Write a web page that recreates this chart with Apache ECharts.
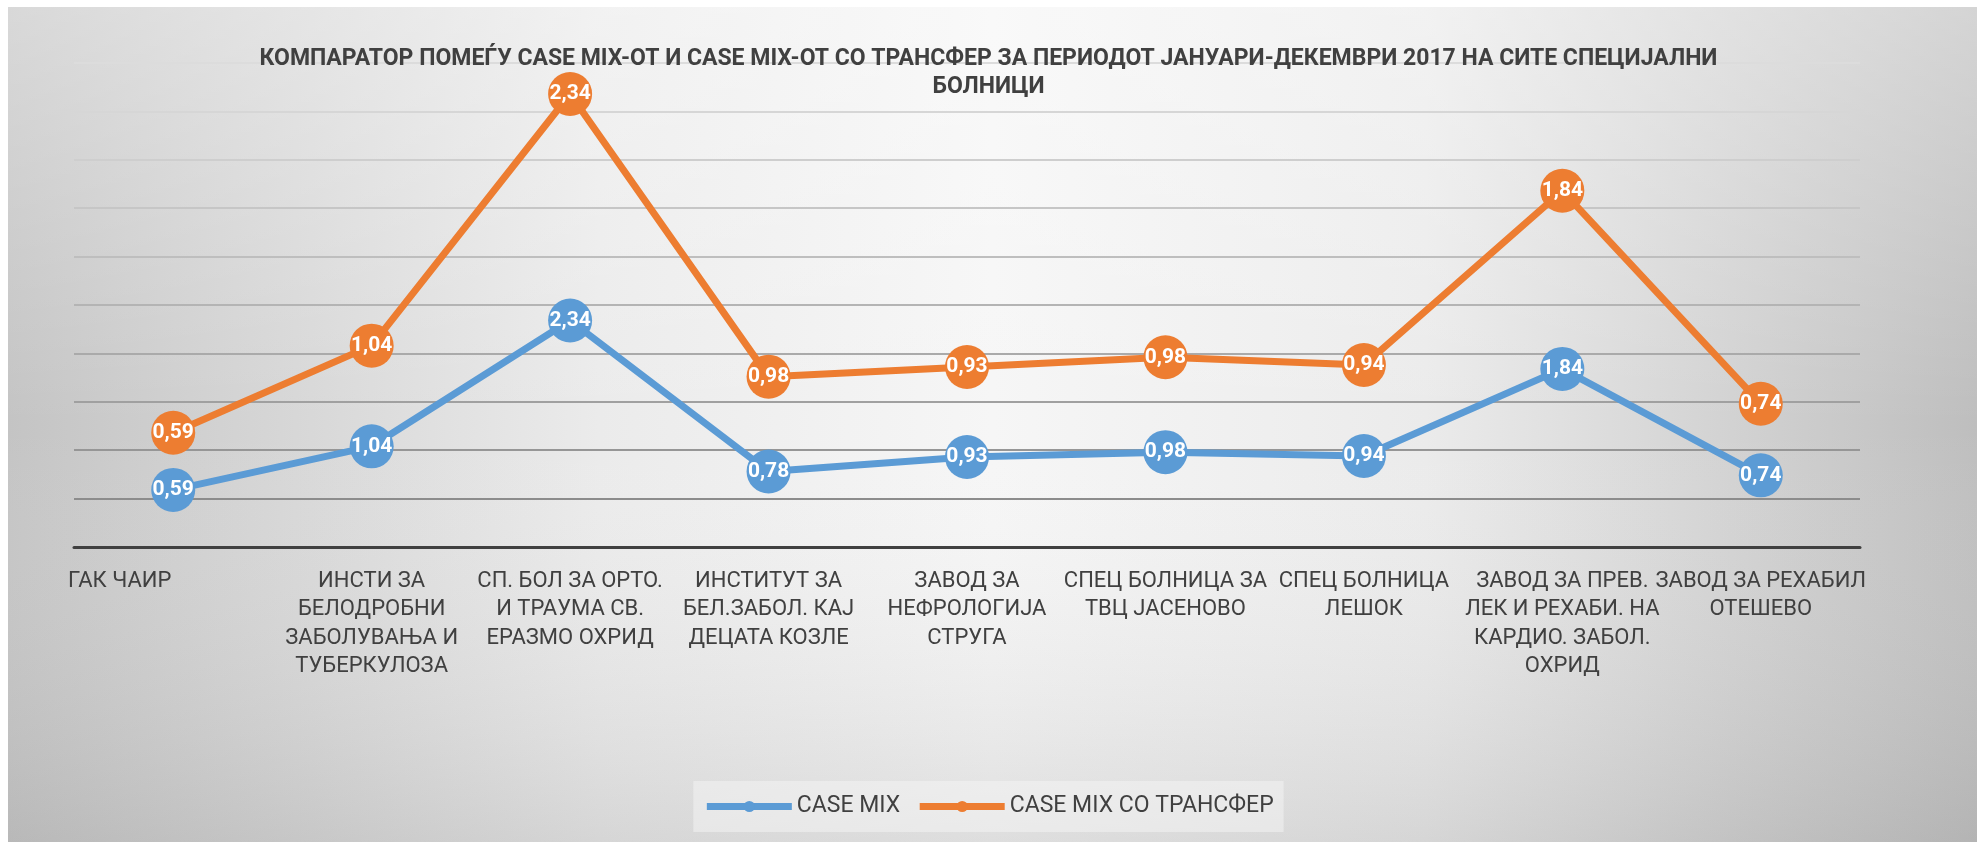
<!DOCTYPE html>
<html>
<head>
<meta charset="utf-8">
<script src="https://cdn.jsdelivr.net/npm/echarts@6/dist/echarts.min.js"></script>
<style>
  html, body { margin: 0; padding: 0; background: #fff; }
  #main { width: 1977px; height: 842px; }
</style>
</head>
<body>
<div id="main"></div>
<script>
var categories = [
  'ГАК ЧАИР',
  'ИНСТИ ЗА\nБЕЛОДРОБНИ\nЗАБОЛУВАЊА И\nТУБЕРКУЛОЗА',
  'СП. БОЛ ЗА ОРТО.\nИ ТРАУМА СВ.\nЕРАЗМО ОХРИД',
  'ИНСТИТУТ ЗА\nБЕЛ.ЗАБОЛ. КАЈ\nДЕЦАТА КОЗЛЕ',
  'ЗАВОД ЗА\nНЕФРОЛОГИЈА\nСТРУГА',
  'СПЕЦ БОЛНИЦА ЗА\nТВЦ ЈАСЕНОВО',
  'СПЕЦ БОЛНИЦА\nЛЕШОК',
  'ЗАВОД ЗА ПРЕВ.\nЛЕК И РЕХАБИ. НА\nКАРДИО. ЗАБОЛ.\nОХРИД',
  'ЗАВОД ЗА РЕХАБИЛ\nОТЕШЕВО'
];
var caseMix = [0.59, 1.04, 2.34, 0.78, 0.93, 0.98, 0.94, 1.84, 0.74];
var caseMixTransfer = [0.59, 1.04, 2.34, 0.98, 0.93, 0.98, 0.94, 1.84, 0.74];

var chartTitle = 'КОМПАРАТОР ПОМЕЃУ CASE MIX-ОТ И CASE MIX-ОТ СО ТРАНСФЕР ЗА ПЕРИОДОТ ЈАНУАРИ-ДЕКЕМВРИ 2017 НА СИТЕ СПЕЦИЈАЛНИ\nБОЛНИЦИ';
var seriesNames = ['CASE MIX', 'CASE MIX СО ТРАНСФЕР'];

var myChart = echarts.init(document.getElementById('main'));

function commaLabel(p) {
  return p.value.toFixed(2).replace('.', ',');
}

var option = {
  animation: false,
  backgroundColor: '#ffffff',
  textStyle: { fontFamily: 'Roboto, "Noto Sans", sans-serif' },
  graphic: [
    {
      type: 'rect', z: -10, silent: true,
      shape: { x: 8, y: 7, width: 1969, height: 835 },
      style: {
        fill: {
          type: 'linear', x: 0, y: 0, x2: 1, y2: 0,
          colorStops: [
            { offset: 0, color: '#c4c4c4' },
            { offset: 0.3, color: '#ebebeb' },
            { offset: 0.5, color: '#f6f6f6' },
            { offset: 0.72, color: '#ebebeb' },
            { offset: 1, color: '#bebebe' }
          ]
        }
      }
    },
    {
      type: 'rect', z: -9, silent: true,
      shape: { x: 8, y: 7, width: 1969, height: 835 },
      style: {
        fill: {
          type: 'linear', x: 0, y: 0, x2: 0, y2: 1,
          colorStops: [
            { offset: 0, color: 'rgba(255,255,255,0.35)' },
            { offset: 0.5, color: 'rgba(255,255,255,0)' },
            { offset: 1, color: 'rgba(150,150,150,0.25)' }
          ]
        }
      }
    }
  ],
  title: {
    text: chartTitle,
    left: 'center',
    top: 40,
    textStyle: {
      color: '#404040',
      fontSize: 23,
      fontWeight: 'bold',
      lineHeight: 28
    }
  },
  legend: {
    bottom: 10,
    left: 'center',
    itemWidth: 85,
    itemHeight: 14,
    itemGap: 16,
    padding: [14, 10],
    backgroundColor: 'rgba(245,245,245,0.5)',
    lineStyle: { width: 7 },
    textStyle: { color: '#404040', fontSize: 23 },
    data: seriesNames
  },
  grid: {
    left: 74,
    right: 117,
    top: 63,
    bottom: 295,
    containLabel: false
  },
  xAxis: {
    type: 'category',
    boundaryGap: true,
    data: categories,
    axisLine: { lineStyle: { color: '#404040', width: 3 } },
    axisTick: { show: false },
    axisLabel: {
      interval: 0,
      color: '#404040',
      fontSize: 22,
      lineHeight: 28.5,
      margin: 20,
      formatter: function (v, i) {
        return i === 0 ? '{first|' + v + '}' : v;
      },
      rich: {
        first: { color: '#404040', fontSize: 22, padding: [0, 107, 0, 0] }
      }
    }
  },
  yAxis: {
    type: 'value',
    min: 0,
    max: 5,
    interval: 0.5,
    axisLabel: { show: false },
    axisLine: { show: false },
    axisTick: { show: false },
    splitLine: {
      lineStyle: {
        width: 2,
        color: ['#8a8a8a', '#8c8c8c', '#969696', '#a0a0a0', '#aaaaaa', '#b4b4b4',
                '#bebebe', '#c6c6c6', '#cecece', '#d6d6d6', '#dcdcdc']
      }
    }
  },
  series: [
    {
      name: seriesNames[0],
      type: 'line',
      stack: 'total',
      data: caseMix,
      symbol: 'circle',
      symbolSize: 44,
      lineStyle: { color: '#5b9bd5', width: 7 },
      itemStyle: { color: '#5b9bd5' },
      label: {
        show: true,
        position: 'inside',
        color: '#ffffff',
        fontSize: 21,
        fontWeight: 'bold',
        formatter: commaLabel
      }
    },
    {
      name: seriesNames[1],
      type: 'line',
      stack: 'total',
      data: caseMixTransfer,
      symbol: 'circle',
      symbolSize: 44,
      lineStyle: { color: '#ed7d31', width: 7 },
      itemStyle: { color: '#ed7d31' },
      label: {
        show: true,
        position: 'inside',
        color: '#ffffff',
        fontSize: 21,
        fontWeight: 'bold',
        formatter: commaLabel
      }
    }
  ]
};

myChart.setOption(option);
</script>
</body>
</html>
